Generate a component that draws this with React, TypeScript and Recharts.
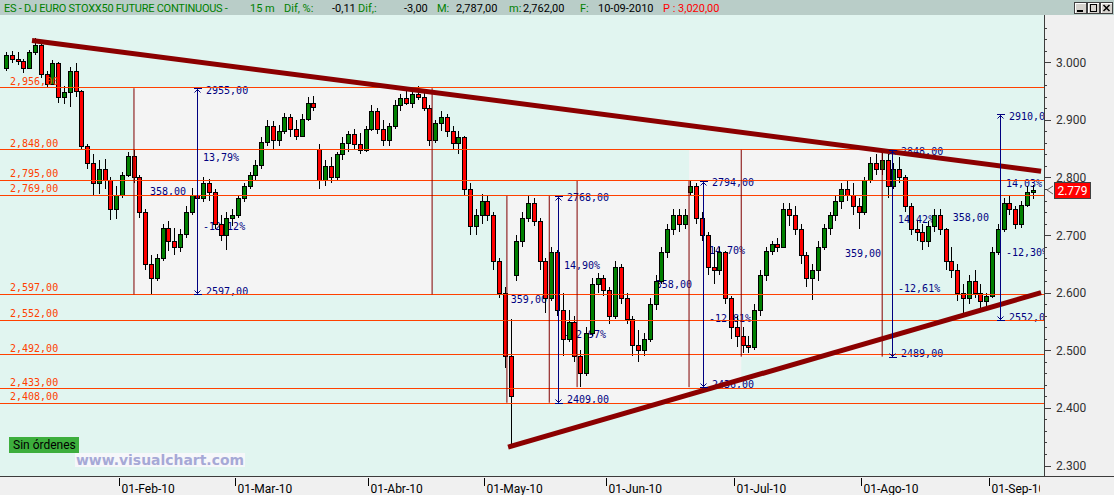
import React from "react";
import {
  ComposedChart,
  Bar,
  XAxis,
  YAxis,
  ReferenceLine,
  ReferenceArea,
  ReferenceDot,
} from "recharts";

// one candle per session, 04-Jan-10 .. 10-Sep-10: [open, high, low, close]
const candles: number[][] = [
  [2990, 3018, 2985, 3012], [3012, 3020, 2998, 3005], [3005, 3018, 2995, 3002], [3002, 3006, 2982, 2990],
  [2990, 3022, 2988, 3018], [3018, 3042, 3012, 3030], [3030, 3032, 2972, 2980], [2980, 2985, 2955, 2962],
  [2962, 3004, 2960, 2998], [2998, 3000, 2930, 2940], [2940, 2958, 2928, 2948], [2948, 2992, 2922, 2985],
  [2985, 2998, 2940, 2950], [2950, 2952, 2850, 2855], [2855, 2858, 2815, 2825], [2825, 2840, 2770, 2790],
  [2790, 2830, 2772, 2815], [2815, 2832, 2780, 2795], [2795, 2800, 2726, 2745], [2745, 2785, 2728, 2770],
  [2770, 2810, 2765, 2805], [2805, 2845, 2800, 2838], [2838, 2848, 2790, 2800], [2800, 2805, 2730, 2740],
  [2740, 2745, 2640, 2650], [2650, 2665, 2598, 2625], [2625, 2668, 2620, 2660], [2660, 2720, 2655, 2712],
  [2712, 2725, 2672, 2690], [2690, 2712, 2665, 2680], [2680, 2710, 2670, 2702], [2702, 2750, 2695, 2740],
  [2740, 2782, 2735, 2770], [2770, 2790, 2750, 2765], [2765, 2800, 2758, 2790], [2790, 2798, 2760, 2775],
  [2775, 2780, 2710, 2720], [2720, 2735, 2690, 2700], [2700, 2740, 2675, 2730], [2730, 2745, 2715, 2735],
  [2735, 2770, 2730, 2765], [2765, 2790, 2758, 2785], [2785, 2810, 2780, 2805], [2805, 2830, 2795, 2822],
  [2822, 2870, 2815, 2862], [2862, 2900, 2855, 2890], [2890, 2898, 2850, 2865], [2865, 2892, 2855, 2880],
  [2880, 2912, 2875, 2905], [2905, 2910, 2870, 2885], [2885, 2900, 2865, 2872], [2872, 2910, 2870, 2902],
  [2902, 2940, 2898, 2930], [2930, 2942, 2915, 2922], [2850, 2858, 2780, 2795], [2795, 2830, 2785, 2820],
  [2820, 2835, 2790, 2800], [2800, 2845, 2795, 2840], [2840, 2870, 2830, 2860], [2860, 2880, 2845, 2875],
  [2875, 2885, 2850, 2858], [2858, 2878, 2840, 2848], [2848, 2890, 2845, 2885], [2885, 2925, 2880, 2915],
  [2915, 2920, 2875, 2885], [2885, 2900, 2855, 2865], [2865, 2895, 2855, 2890], [2890, 2935, 2885, 2925],
  [2925, 2945, 2915, 2938], [2938, 2955, 2925, 2930], [2930, 2950, 2920, 2945], [2945, 2958, 2935, 2940],
  [2940, 2950, 2915, 2920], [2920, 2925, 2855, 2865], [2865, 2900, 2860, 2895], [2895, 2915, 2880, 2905],
  [2905, 2910, 2870, 2880], [2880, 2890, 2850, 2860], [2860, 2880, 2840, 2870], [2870, 2872, 2770, 2780],
  [2780, 2790, 2700, 2715], [2715, 2745, 2700, 2735], [2735, 2772, 2720, 2760], [2760, 2770, 2725, 2735],
  [2735, 2740, 2640, 2655], [2655, 2660, 2590, 2600], [2600, 2610, 2470, 2490], [2490, 2555, 2332, 2420],
  [2630, 2700, 2620, 2690], [2690, 2740, 2680, 2730], [2730, 2768, 2722, 2755], [2755, 2765, 2715, 2725],
  [2725, 2730, 2640, 2655], [2655, 2660, 2565, 2590], [2590, 2680, 2585, 2670], [2670, 2675, 2560, 2570],
  [2570, 2600, 2490, 2520], [2520, 2570, 2515, 2550], [2550, 2560, 2480, 2490], [2490, 2500, 2436, 2460],
  [2460, 2540, 2455, 2530], [2530, 2625, 2525, 2615], [2615, 2635, 2600, 2625], [2625, 2630, 2595, 2605],
  [2605, 2610, 2545, 2560], [2560, 2655, 2555, 2645], [2645, 2650, 2580, 2590], [2590, 2600, 2545, 2555],
  [2555, 2560, 2490, 2510], [2510, 2535, 2480, 2500], [2500, 2530, 2490, 2520], [2520, 2590, 2515, 2580],
  [2580, 2630, 2570, 2620], [2620, 2680, 2615, 2670], [2670, 2720, 2660, 2710], [2710, 2745, 2700, 2735],
  [2735, 2745, 2705, 2720], [2720, 2745, 2710, 2735], [2775, 2794, 2770, 2785], [2785, 2790, 2720, 2730],
  [2730, 2740, 2690, 2700], [2700, 2705, 2630, 2645], [2645, 2680, 2615, 2640], [2640, 2680, 2630, 2670],
  [2670, 2672, 2580, 2590], [2590, 2595, 2520, 2540], [2540, 2560, 2505, 2525], [2525, 2540, 2495, 2510],
  [2510, 2525, 2496, 2505], [2505, 2580, 2500, 2570], [2570, 2640, 2560, 2630], [2630, 2680, 2620, 2672],
  [2672, 2690, 2665, 2685], [2685, 2695, 2670, 2680], [2680, 2755, 2678, 2745], [2745, 2755, 2715, 2735],
  [2735, 2750, 2700, 2710], [2710, 2720, 2650, 2665], [2665, 2670, 2610, 2625], [2625, 2650, 2588, 2640],
  [2640, 2690, 2620, 2680], [2680, 2720, 2675, 2712], [2712, 2740, 2700, 2735], [2735, 2770, 2725, 2760],
  [2760, 2790, 2745, 2780], [2780, 2795, 2760, 2770], [2770, 2790, 2735, 2750], [2750, 2765, 2710, 2740],
  [2740, 2800, 2735, 2795], [2795, 2835, 2790, 2825], [2825, 2840, 2805, 2815], [2815, 2848, 2805, 2830],
  [2830, 2840, 2765, 2785], [2785, 2825, 2780, 2815], [2815, 2835, 2790, 2800], [2800, 2805, 2740, 2750],
  [2750, 2755, 2700, 2710], [2710, 2725, 2690, 2705], [2705, 2720, 2675, 2690], [2690, 2725, 2680, 2715],
  [2715, 2745, 2705, 2735], [2735, 2745, 2700, 2710], [2710, 2712, 2640, 2655], [2655, 2680, 2625, 2640],
  [2640, 2650, 2585, 2600], [2600, 2615, 2558, 2590], [2590, 2630, 2580, 2620], [2620, 2640, 2590, 2600],
  [2600, 2615, 2570, 2585], [2585, 2600, 2572, 2595], [2595, 2680, 2590, 2670], [2670, 2720, 2665, 2710],
  [2710, 2765, 2705, 2755], [2755, 2770, 2735, 2745], [2745, 2750, 2710, 2720], [2720, 2760, 2712, 2752],
  [2752, 2785, 2748, 2775], [2775, 2787, 2762, 2779],
];

// first session of each month (tick sits half a session before it)
const monthTicks = [19.5, 39.5, 62.5, 82.5, 103.5, 125.5, 147.5, 169.5];
const monthLabels = ["01-Feb-10", "01-Mar-10", "01-Abr-10", "01-May-10", "01-Jun-10", "01-Jul-10", "01-Ago-10", "01-Sep-10"];

const priceTicks = [
  2300, 2320, 2340, 2360, 2380, 2400, 2420, 2440, 2460, 2480, 2500, 2520, 2540, 2560, 2580,
  2600, 2620, 2640, 2660, 2680, 2700, 2720, 2740, 2760, 2780, 2800, 2820, 2840, 2860, 2880,
  2900, 2920, 2940, 2960, 2980, 3000, 3020, 3040, 3060,
];

// horizontal support / resistance levels
const levels = [2956, 2848, 2795, 2769, 2597, 2552, 2492, 2433, 2408];

// shaded measuring zones
const zones = [
  { x1: 22.1, x2: 73.5, hi: 2955, lo: 2597 },
  { x1: 86.4, x2: 117.8, hi: 2768, lo: 2409 },
  { x1: 98.5, x2: 126.8, hi: 2794, lo: 2436 },
  { x1: 117.8, x2: 151.1, hi: 2848, lo: 2489 },
];
const zoneEdges = [
  { x: 22.1, hi: 2955, lo: 2597 },
  { x: 73.5, hi: 2955, lo: 2597 },
  { x: 86.4, hi: 2768, lo: 2409 },
  { x: 93.7, hi: 2768, lo: 2409 },
  { x: 98.5, hi: 2794, lo: 2436 },
  { x: 117.8, hi: 2794, lo: 2436 },
  { x: 126.8, hi: 2848, lo: 2489 },
  { x: 151.1, hi: 2848, lo: 2489 },
];

// price swing measurements (blue arrows)
const measures = [
  { at: 32.97, hi: 2955, lo: 2597 },
  { at: 95.2, hi: 2768, lo: 2409 },
  { at: 120.2, hi: 2794, lo: 2436 },
  { at: 152.8, hi: 2848, lo: 2489 },
  { at: 171.4, hi: 2910, lo: 2552 },
];

const trendLines = [
  { x1: 4.52, y1: 3038, x2: 178.5, y2: 2811 },
  { x1: 86.6, y1: 2332, x2: 178.5, y2: 2600 },
];

const rows = candles.map(([o, h, l, c], i) => ({ i, o, h, l, c }));
const last = candles[candles.length - 1];

const MONO = '"DejaVu Sans Mono", monospace';
const SANS = 'Roboto, "Noto Sans", sans-serif';
const ORANGE = "#ff4000";
const NAVY = "#000080";
const MAROON = "#8b0000";
const PLOT_W = 1044;
const PLOT_H = 461;

const comma = (v: number) => v.toFixed(2).replace(".", ",");
const fmtLevel = (v: number) => `${Math.floor(v / 1000)},${String(v % 1000).padStart(3, "0")},00`;
const fmtAxis = (v: number) => `${Math.floor(v / 1000)}.${String(v % 1000).padStart(3, "0")}`;

const measureTexts = measures.flatMap((m) => {
  const d = m.hi - m.lo;
  return [
    { x: m.at, y: m.hi, text: `${m.hi},00`, dx: 9, dy: 5.5, end: false },
    { x: m.at, y: m.hi - d / 3, text: `${comma((d / m.lo) * 100)}%`, dx: 6, dy: 4, end: false },
    { x: m.at, y: m.hi - d / 2, text: `${d},00`, dx: -11, dy: 4, end: true },
    { x: m.at, y: m.hi - (2 * d) / 3, text: `-${comma((d / m.hi) * 100)}%`, dx: 6, dy: 4, end: false },
    { x: m.at, y: m.lo, text: `${m.lo},00`, dx: 9, dy: 0.5, end: false },
  ];
});

function Candle(props: any) {
  const { x, y, width, height, payload } = props;
  if (!payload || height == null || isNaN(y)) return null;
  const { o, h, l, c } = payload;
  const span = h - l || 1;
  const py = (v: number) => y + ((h - v) / span) * height;
  const cx = Math.round(x + width / 2) + 0.5;
  const top = Math.round(py(Math.max(o, c))) + 0.5;
  const bot = Math.round(py(Math.min(o, c))) + 0.5;
  return (
    <g shapeRendering="crispEdges">
      <line x1={cx} x2={cx} y1={Math.round(y)} y2={Math.round(y + height)} stroke="#000" />
      <rect
        x={cx - 2}
        y={top}
        width={4}
        height={Math.max(1, bot - top)}
        fill={c >= o ? "#008000" : "#ff0000"}
        stroke="#000"
      />
    </g>
  );
}

function LevelLabel(props: any) {
  const { viewBox, value } = props;
  if (!viewBox) return null;
  return (
    <text x={viewBox.x + 10} y={viewBox.y - 3} fill={ORANGE} fontSize={10} fontFamily={MONO}>
      {fmtLevel(value)}
    </text>
  );
}

function PriceTag(props: any) {
  const { viewBox, value } = props;
  if (!viewBox) return null;
  const yy = Math.round(viewBox.y);
  const x0 = viewBox.x + viewBox.width;
  return (
    <g>
      <path d={`M${x0 + 9},${yy - 4} L${x0 + 3},${yy} L${x0 + 9},${yy + 4}`} stroke="#606060" fill="none" />
      <rect x={x0 + 10.5} y={yy - 7.5} width={36} height={16} fill="#ff0000" stroke="#404040" />
      <text x={x0 + 28.5} y={yy + 4.5} fill="#fff" fontSize={12} fontFamily={SANS} textAnchor="middle">
        {fmtAxis(value)}
      </text>
    </g>
  );
}

function MeasureArrow(props: any) {
  const { x1, y1, y2 } = props;
  const x = Math.round(x1) + 0.5;
  const top = Math.round(Math.min(y1, y2)) + 0.5;
  const bot = Math.round(Math.max(y1, y2)) + 0.5;
  return (
    <g stroke={NAVY} fill="none" shapeRendering="crispEdges">
      <line x1={x} x2={x} y1={top} y2={bot} />
      <line x1={x - 4} x2={x + 4} y1={top} y2={top} />
      <path d={`M${x - 3},${top + 4} L${x},${top + 1} L${x + 3},${top + 4}`} shapeRendering="auto" />
      <line x1={x - 4} x2={x + 4} y1={bot} y2={bot} />
      <path d={`M${x - 3},${bot - 4} L${x},${bot - 1} L${x + 3},${bot - 4}`} shapeRendering="auto" />
    </g>
  );
}

function DateTick(props: any) {
  const { x, y, payload } = props;
  const label = monthLabels[monthTicks.indexOf(payload.value)];
  const tx = Math.round(x) + 0.5;
  return (
    <g>
      <line x1={tx} x2={tx} y1={y + 2} y2={y + 10} stroke="#000" shapeRendering="crispEdges" />
      <svg x={tx + 2} y={y} width={Math.max(0, PLOT_W - tx - 6)} height={19} overflow="hidden">
        <text x={0} y={16.5} fill="#000" fontSize={12} fontFamily={SANS}>
          {label}
        </text>
      </svg>
    </g>
  );
}

function PriceTick(props: any) {
  const { x, y, payload } = props;
  const v = payload.value;
  const major = v % 100 === 0;
  const yy = Math.round(y) + 0.5;
  return (
    <g>
      <line x1={x} x2={x + (major ? 7 : 3)} y1={yy} y2={yy} stroke="#404040" shapeRendering="crispEdges" />
      {major && (
        <text x={x + 12} y={y + 4.5} fill="#303030" fontSize={12} fontFamily={SANS}>
          {fmtAxis(v)}
        </text>
      )}
    </g>
  );
}

const headerParts = [
  { x: 4, text: "ES - DJ EURO STOXX50 FUTURE CONTINUOUS -", color: "#008000", ls: -0.25 },
  { x: 250, text: "15 m", color: "#008000" },
  { x: 284, text: "Dif, %:", color: "#008000" },
  { x: 332, text: "-0,11", color: "#000" },
  { x: 358, text: "Dif,:", color: "#008000" },
  { x: 404, text: "-3,00", color: "#000" },
  { x: 437, text: "M:", color: "#008000" },
  { x: 456, text: "2,787,00", color: "#000" },
  { x: 509, text: "m:", color: "#008000" },
  { x: 523, text: "2,762,00", color: "#000" },
  { x: 580, text: "F:", color: "#008000" },
  { x: 598, text: "10-09-2010", color: "#000" },
  { x: 663, text: "P : 3,020,00", color: "#ff0000" },
];

function Header() {
  return (
    <svg width={1114} height={15} style={{ position: "absolute", left: 0, top: 0 }}>
      <rect x={0} y={0} width={1114} height={15} fill="#b9cdc8" />
      {headerParts.map((p) => (
        <text
          key={p.x}
          x={p.x}
          y={12}
          fill={p.color}
          fontSize={11}
          fontFamily={SANS}
          letterSpacing={p.ls ?? 0}
          style={{ whiteSpace: "pre" }}
        >
          {p.text}
        </text>
      ))}
      {[1074, 1087, 1100].map((bx, k) => (
        <g key={bx} shapeRendering="crispEdges">
          <rect x={bx + 0.5} y={2.5} width={12} height={11} fill="#d6d3ce" stroke="#404040" />
          <line x1={bx + 1} x2={bx + 12} y1={3.5} y2={3.5} stroke="#fff" />
          <line x1={bx + 1.5} x2={bx + 1.5} y1={3} y2={13} stroke="#fff" />
          {k === 0 && <rect x={bx + 3} y={10} width={6} height={2} fill="#000" />}
          {k === 1 && <rect x={bx + 3.5} y={4.5} width={6} height={7} fill="none" stroke="#000" />}
          {k === 2 && (
            <path
              d={`M${bx + 3.5},${5} L${bx + 9.5},${11} M${bx + 9.5},${5} L${bx + 3.5},${11}`}
              stroke="#000"
              strokeWidth={1.5}
              shapeRendering="auto"
            />
          )}
        </g>
      ))}
    </svg>
  );
}

export default function App() {
  return (
    <div
      style={{
        position: "absolute",
        left: 0,
        top: 0,
        width: 1114,
        height: 495,
        background: "#f0f0f0",
        overflow: "hidden",
      }}
    >
      <div style={{ position: "absolute", left: 0, top: 15, width: PLOT_W, height: PLOT_H, background: "#e1f5f0" }} />
      <div style={{ position: "absolute", left: 0, top: 15 }}>
        <ComposedChart width={1114} height={480} data={rows} margin={{ top: 0, right: 0, bottom: 0, left: 0 }}>
          <XAxis
            dataKey="i"
            type="number"
            domain={[-1, 179]}
            allowDataOverflow
            ticks={monthTicks}
            interval={0}
            height={19}
            tickSize={0}
            tickMargin={0}
            axisLine={false}
            tick={<DateTick />}
          />
          <YAxis
            orientation="right"
            type="number"
            width={70}
            domain={[2281.8, 3082.1]}
            allowDataOverflow
            ticks={priceTicks}
            interval={0}
            tickSize={0}
            tickMargin={0}
            axisLine={false}
            tick={<PriceTick />}
          />
          {zones.map((z, k) => (
            <ReferenceArea
              key={`z${k}`}
              x1={z.x1}
              x2={z.x2}
              y1={z.lo}
              y2={z.hi}
              fill="#f4f4f4"
              fillOpacity={1}
              stroke="none"
              zIndex={-10}
            />
          ))}
          {measureTexts.map((t, k) => (
            <ReferenceDot
              key={`t${k}`}
              x={t.x}
              y={t.y}
              r={0}
              zIndex={200}
              shape={(p: any) => (
                <svg x={0} y={0} width={PLOT_W} height={PLOT_H} overflow="hidden">
                  <text
                    x={p.cx + t.dx}
                    y={p.cy + t.dy}
                    fill={NAVY}
                    fontSize={10}
                    fontFamily={MONO}
                    textAnchor={t.end ? "end" : "start"}
                  >
                    {t.text}
                  </text>
                </svg>
              )}
            />
          ))}
          <Bar
            dataKey={(d: any) => [d.l, d.h]}
            barSize={4}
            shape={<Candle />}
            isAnimationActive={false}
            zIndex={300}
          />
          {levels.map((v) => (
            <ReferenceLine
              key={`l${v}`}
              y={v}
              stroke={ORANGE}
              strokeWidth={1}
              shapeRendering="crispEdges"
              zIndex={500}
              label={<LevelLabel value={v} />}
            />
          ))}
          {zoneEdges.map((e, k) => (
            <ReferenceLine
              key={`e${k}`}
              segment={[
                { x: e.x, y: e.hi },
                { x: e.x, y: e.lo },
              ]}
              stroke="#800000"
              strokeWidth={1}
              zIndex={500}
            />
          ))}
          {trendLines.map((t, k) => (
            <ReferenceLine
              key={`tr${k}`}
              segment={[
                { x: t.x1, y: t.y1 },
                { x: t.x2, y: t.y2 },
              ]}
              stroke={MAROON}
              strokeWidth={5}
              zIndex={600}
            />
          ))}
          {measures.map((m, k) => (
            <ReferenceLine
              key={`m${k}`}
              segment={[
                { x: m.at, y: m.hi },
                { x: m.at, y: m.lo },
              ]}
              shape={<MeasureArrow />}
              zIndex={650}
            />
          ))}
          <ReferenceLine y={last[3]} stroke="none" zIndex={700} label={<PriceTag value={last[3]} />} />
        </ComposedChart>
      </div>
      <div style={{ position: "absolute", left: 0, top: 476, width: 1114, height: 1, background: "#3c3c3c" }} />
      <div style={{ position: "absolute", left: PLOT_W, top: 15, width: 1, height: PLOT_H, background: "#3c3c3c" }} />
      <Header />
      <svg width={260} height={40} style={{ position: "absolute", left: 0, top: 433 }}>
        <rect x={9} y={4} width={70} height={16} fill="#3dae3d" />
        <text x={13} y={16} fill="#000" fontSize={12} fontFamily={SANS}>
          Sin órdenes
        </text>
        <rect x={75} y={20} width={170} height={14} fill="#f6f7fa" />
        <text
          x={76}
          y={32}
          fill="#a6a9d6"
          fontSize={14}
          fontWeight="bold"
          fontFamily='"DejaVu Sans", sans-serif'
          textLength={168}
          lengthAdjust="spacingAndGlyphs"
        >
          www.visualchart.com
        </text>
      </svg>
    </div>
  );
}
